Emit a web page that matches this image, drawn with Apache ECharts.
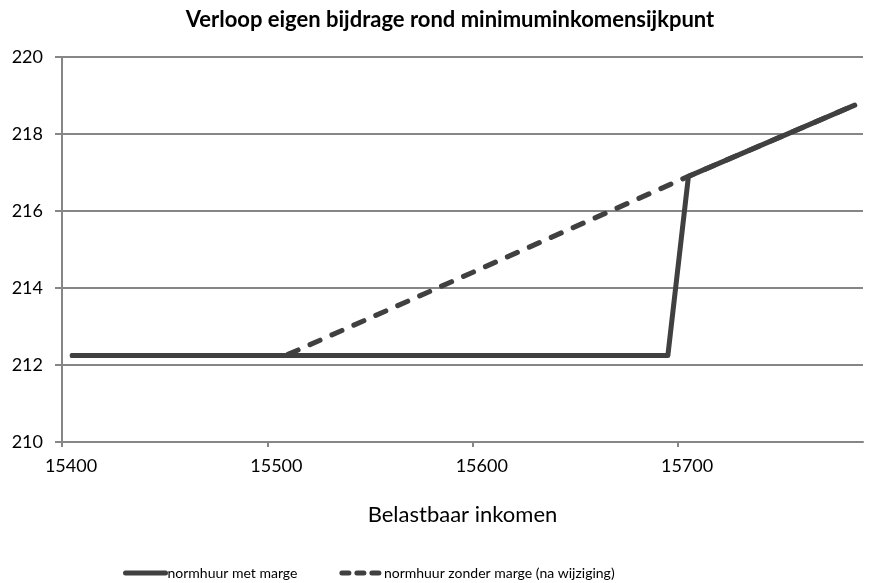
<!DOCTYPE html>
<html>
<head>
<meta charset="utf-8">
<script src="https://cdn.jsdelivr.net/npm/echarts@6/dist/echarts.min.js"></script>
<style>html,body{margin:0;padding:0;background:#fff}#c{width:871px;height:583px}</style>
</head>
<body>
<div id="c"></div>
<script>
const titleText = 'Verloop eigen bijdrage rond minimuminkomensijkpunt';
const xAxisName = 'Belastbaar inkomen';
const seriesNames = ['normhuur met marge', 'normhuur zonder marge (na wijziging)'];
const metMargeX = [15405, 15695, 15705, 15786];
const metMargeY = [212.25, 212.25, 216.9, 218.75];
const zonderMargeX = [15405, 15509, 15705, 15786];
const zonderMargeY = [212.25, 212.25, 216.9, 218.75];

const FONT = 'Lato';
const chart = echarts.init(document.getElementById('c'));
const pair = (xs, ys) => xs.map((x, i) => [x, ys[i]]);
chart.setOption({
  animation: false,
  backgroundColor: '#fff',
  title: {
    text: titleText, left: 445, top: 4, textAlign: 'center',
    textStyle: {fontFamily: FONT, fontWeight: 'bold', fontSize: 22, color: '#000'}
  },
  grid: {left: 62, right: 8, top: 57, bottom: 141},
  legend: {
    left: 118, top: 561, itemWidth: 40, itemHeight: 14, itemGap: 42,
    itemStyle: {opacity: 0},
    textStyle: {fontFamily: FONT, fontSize: 14, color: '#000', padding: [0, 0, 0, -3]},
    data: [
      {name: seriesNames[0], lineStyle: {width: 5, color: '#404040', cap: 'round'}},
      {name: seriesNames[1], lineStyle: {width: 5, color: '#404040', type: [7, 8], cap: 'round'}}
    ]
  },
  xAxis: {
    type: 'value', min: 15400, max: 15790, interval: 100,
    name: xAxisName, nameLocation: 'middle', nameGap: 62,
    nameTextStyle: {fontFamily: FONT, fontSize: 22, color: '#000'},
    axisLine: {lineStyle: {color: '#868686', width: 2}},
    axisTick: {show: true, length: 5, lineStyle: {color: '#868686', width: 2}},
    axisLabel: {showMaxLabel: false, margin: 15, padding: [0, 0, 0, 18],
      formatter: v => String(v),
      fontFamily: FONT, fontSize: 18, color: '#000'},
    splitLine: {show: false}
  },
  yAxis: {
    type: 'value', min: 210, max: 220, interval: 2,
    axisLine: {show: true, lineStyle: {color: '#868686', width: 2}},
    axisTick: {show: true, length: 7, lineStyle: {color: '#868686', width: 2}},
    axisLabel: {margin: 19, fontFamily: FONT, fontSize: 18, color: '#000'},
    splitLine: {lineStyle: {color: '#868686', width: 2}}
  },
  series: [
    {
      name: seriesNames[0], type: 'line', symbol: 'none', z: 3,
      data: pair(metMargeX, metMargeY),
      lineStyle: {color: '#404040', width: 5, cap: 'round', join: 'round'},
      itemStyle: {color: '#404040'}
    },
    {
      name: seriesNames[1], type: 'line', symbol: 'none', z: 2,
      data: pair(zonderMargeX, zonderMargeY),
      lineStyle: {color: '#404040', width: 5, type: [11, 13], cap: 'round', join: 'round'},
      itemStyle: {color: '#404040'}
    }
  ]
});
</script>
</body>
</html>
